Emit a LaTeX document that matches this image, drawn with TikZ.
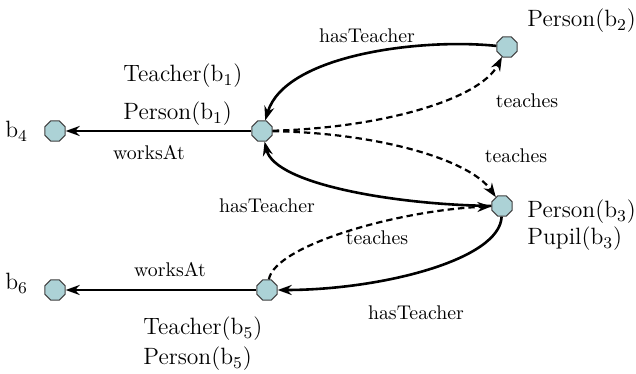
\documentclass[tikz,border=0pt]{standalone}
\usetikzlibrary{shapes.geometric,arrows.meta}

\begin{document}
\begin{tikzpicture}[x=0.5pt,y=0.5pt,
  ind/.style={regular polygon,regular polygon sides=8,minimum size=11pt,inner sep=0pt,draw=black!75,line width=0.5pt,fill={rgb,255:red,172;green,210;blue,214}},
  rel/.style={->,line width=1.3pt},
  reld/.style={->,line width=1.1pt,dash pattern=on 3.2pt off 2pt},
  big/.style={font=\fontsize{11.8}{14}\selectfont,inner sep=0pt,anchor=base west},
  small/.style={font=\fontsize{9.9}{12}\selectfont,inner sep=0pt,anchor=base},
  >={Stealth[length=7pt,width=5pt]}]
\useasboundingbox (0,0) rectangle (636,374);
% individuals
\node [ind] (b1) at (262,243) {};
\node [ind] (b2) at (507,327) {};
\node [ind] (b3) at (502,168) {};
\node [ind] (b4) at (55,243) {};
\node [ind] (b5) at (267,84) {};
\node [ind] (b6) at (55,84) {};
% role assertions
\draw [rel] (b1) -- (b4);
\draw [rel] (b5) -- (b6);
\draw [rel] (b2) .. controls (420,336) and (285,319) .. (b1);
\draw [reld] (b1) .. controls (380,246) and (480,274) .. (b2);
\draw [reld] (b1) .. controls (380,241) and (470,214) .. (b3);
\draw [rel] (b3) .. controls (400,169) and (275,189) .. (b1);
\draw [reld] (b5) .. controls (275,129) and (400,164) .. (b3);
\draw [rel] (b3) .. controls (500,114) and (380,84) .. (b5);
% concept assertions
\node [big] (t1) at (123,292) {Teacher(b\textsubscript{1})};
\node [big] (p1) at (123,254) {Person(b\textsubscript{1})};
\node [big] (p2) at (527,347) {Person(b\textsubscript{2})};
\node [big] (p3) at (527,156) {Person(b\textsubscript{3})};
\node [big] (u3) at (527,129) {Pupil(b\textsubscript{3})};
\node [big] (t5) at (143,39) {Teacher(b\textsubscript{5})};
\node [big] (p5) at (143,9) {Person(b\textsubscript{5})};
\node [big] (n4) at (5,236) {b\textsubscript{4}};
\node [big] (n6) at (5,84) {b\textsubscript{6}};
% role names
\node [small] (l1) at (149,214) {worksAt};
\node [small] (l2) at (367,331) {hasTeacher};
\node [small] (l3) at (527,266) {teaches};
\node [small] (l4) at (516,211) {teaches};
\node [small] (l5) at (267,161) {hasTeacher};
\node [small] (l6) at (377,129) {teaches};
\node [small] (l7) at (416,54) {hasTeacher};
\node [small] (l8) at (170,97) {worksAt};
\end{tikzpicture}
\end{document}
